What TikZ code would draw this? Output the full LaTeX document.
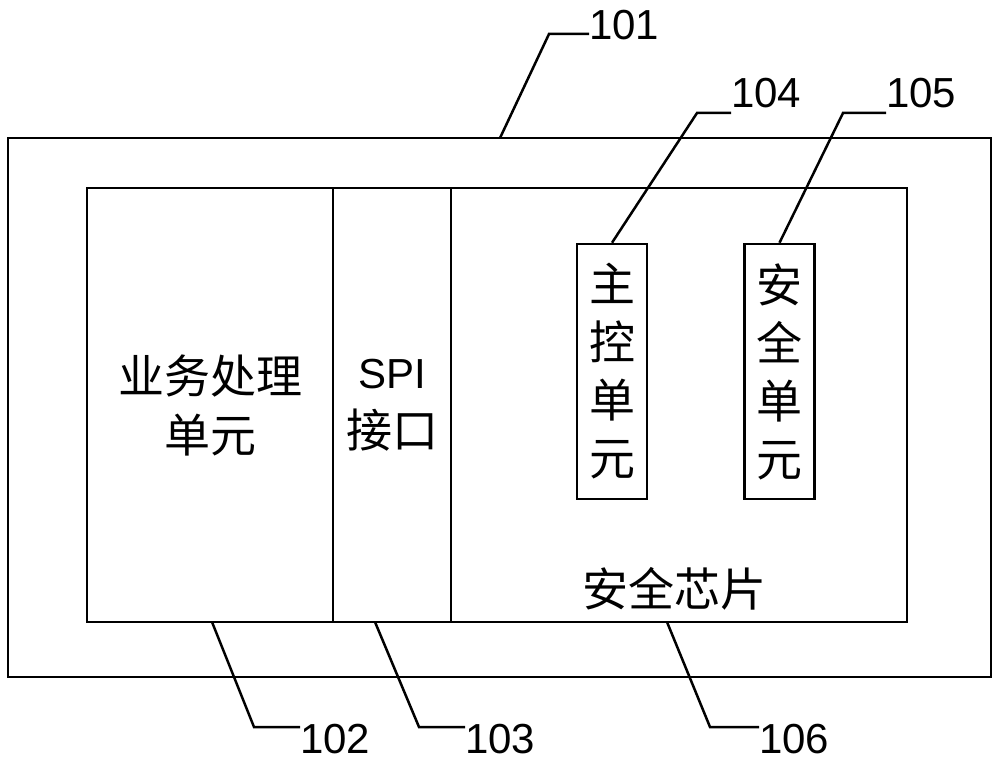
\documentclass[tikz,border=0pt]{standalone}
\usepackage{fontspec}
\setmainfont{Liberation Sans}
\newfontfamily\cjkfont{Noto Sans CJK SC}
\usepackage{tikz}
\usetikzlibrary{positioning,calc}

\tikzset{
  block/.style={draw, line width=2.5pt, inner sep=0pt, align=center, font=\cjkfont\fontsize{46}{59}\selectfont},
  unit/.style={block, minimum width=70pt, minimum height=255pt, font=\cjkfont\fontsize{46}{58}\selectfont},
  lead/.style={line width=2.5pt},
  tag/.style={anchor=base west, inner sep=0pt, font=\fontsize{42}{42}\selectfont}
}

\begin{document}
\begin{tikzpicture}[x=1pt, y=-1pt]
\useasboundingbox (0,0) rectangle (1000,765);
% frame and blocks
\node[block, minimum width=983pt, minimum height=539pt] (board) at (499.5,407.5) {};
\node[block, minimum width=246pt, minimum height=434pt] (biz) at (210,405) {业务处理\\单元};
\node[block, minimum width=118pt, minimum height=434pt] (spi) at (392,405) {{\rmfamily\fontsize{42}{59}\selectfont SPI}\\接口};
\node[block, minimum width=456pt, minimum height=434pt] (chip) at (679,405) {};
\node[font=\cjkfont\fontsize{46}{46}\selectfont, inner sep=0pt] (chiptxt) at (674,589) {安全芯片};
\node[unit] (ctrl) at (612,371.5) {主\\控\\单\\元};
\node[unit] (sec) at (779.5,371.5) {安\\全\\单\\元};
% reference numbers
\coordinate (p101) at (500,138);
\coordinate (b101) at (549,34);
\node[tag] (t101) at (589,40) {101};
\coordinate (b104) at (697,113);
\node[tag] (t104) at (731,108) {104};
\coordinate (b105) at (843,113);
\node[tag] (t105) at (886,108) {105};
\coordinate (p102) at (212,622);
\coordinate (b102) at (254,727);
\node[tag] (t102) at (300,753) {102};
\coordinate (p103) at (375,622);
\coordinate (b103) at (419,727);
\node[tag] (t103) at (465,753) {103};
\coordinate (p106) at (667,622);
\coordinate (b106) at (710,727);
\node[tag] (t106) at (759,753) {106};
\draw[lead] (p101) -- (b101) -- (b101 -| t101.west);
\draw[lead] (ctrl.north) -- (b104) -- (b104 -| t104.west);
\draw[lead] (sec.north) -- (b105) -- (b105 -| t105.west);
\draw[lead] (p102) -- (b102) -- (b102 -| t102.west);
\draw[lead] (p103) -- (b103) -- (b103 -| t103.west);
\draw[lead] (p106) -- (b106) -- (b106 -| t106.west);
\end{tikzpicture}
\end{document}
